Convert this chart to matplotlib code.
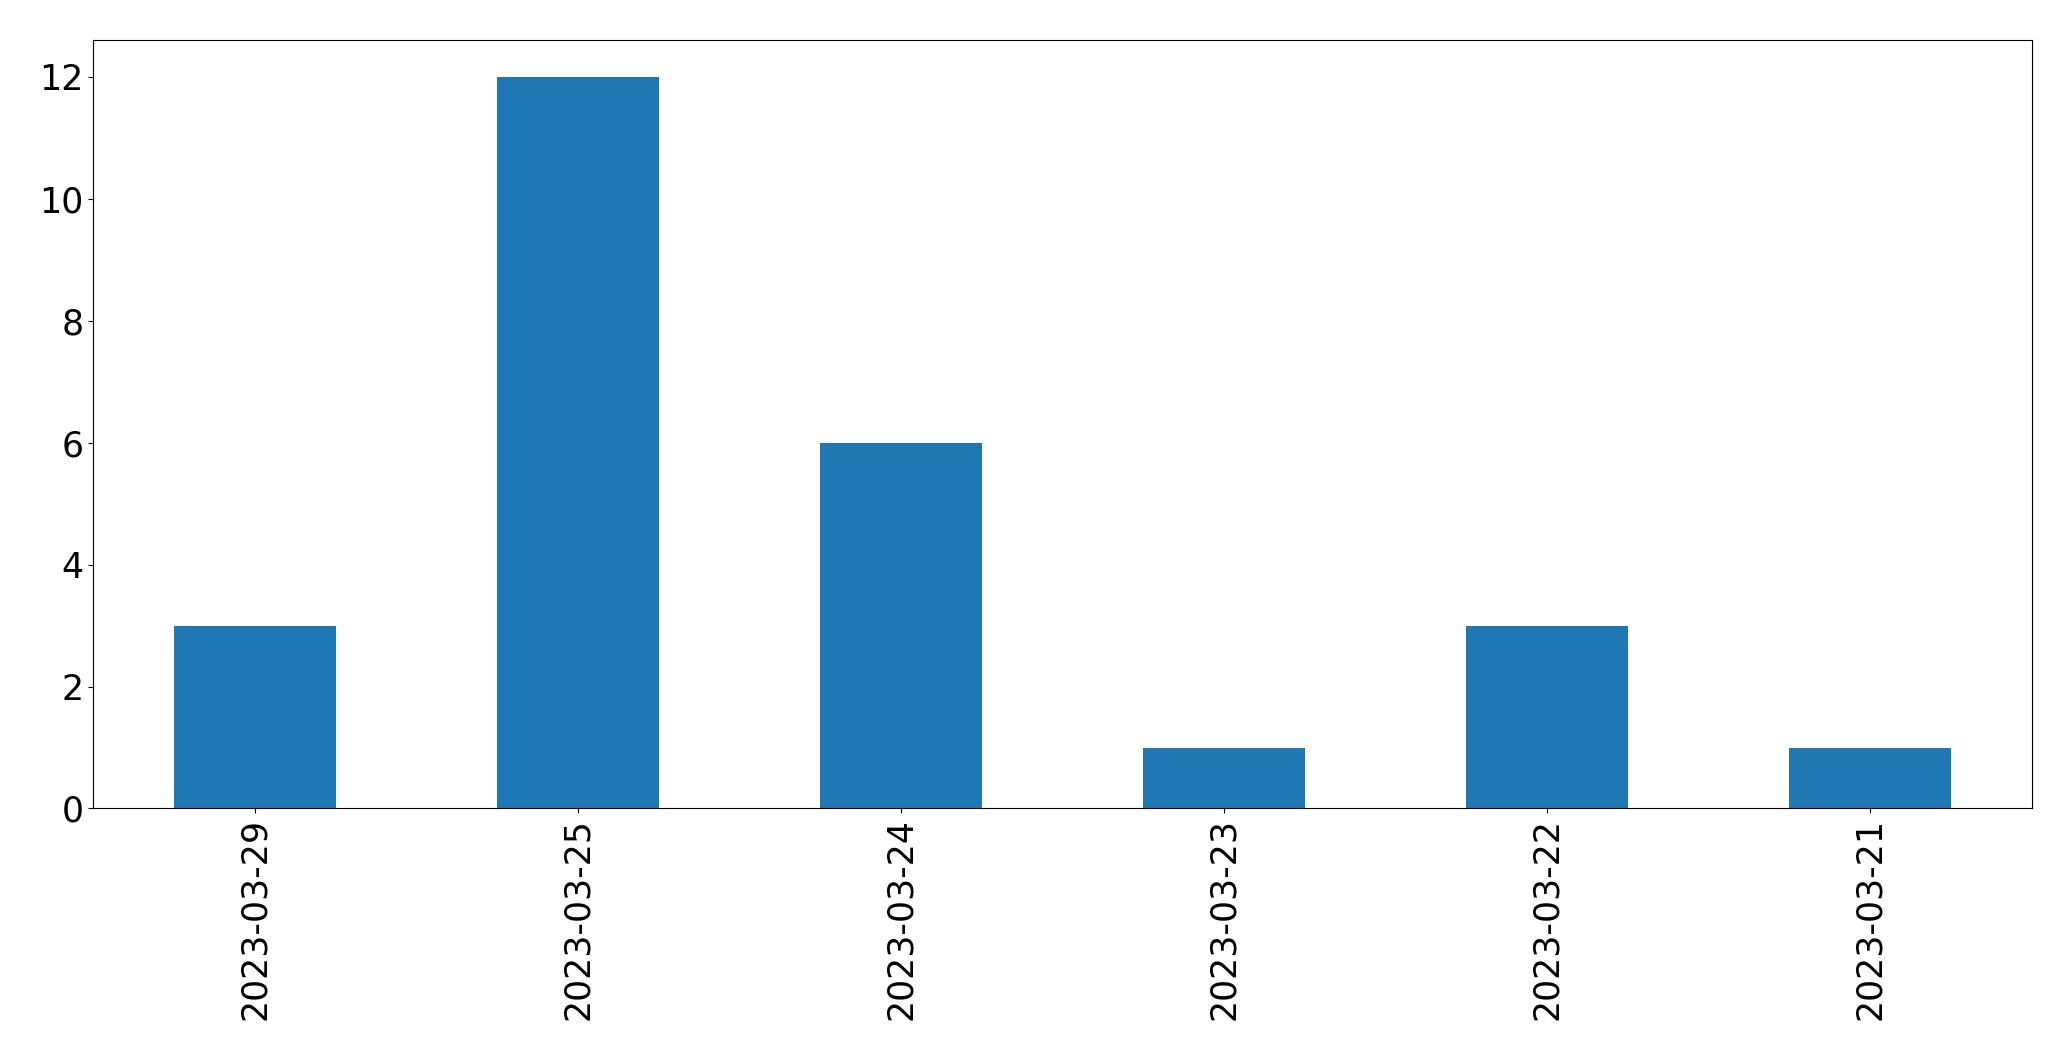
import matplotlib.pyplot as plt
import pandas as pd

dates = ["2023-03-29", "2023-03-25", "2023-03-24", "2023-03-23", "2023-03-22", "2023-03-21"]
counts = [3, 12, 6, 1, 3, 1]

s = pd.Series(counts, index=dates)

fig, ax = plt.subplots(figsize=(20.71, 10.61), dpi=100)
s.plot(kind="bar", ax=ax, color="#1f77b4")
ax.tick_params(axis="both", labelsize=25)
ax.set_yticks([0, 2, 4, 6, 8, 10, 12])
fig.subplots_adjust(left=0.045, right=0.981, top=0.962, bottom=0.238)
fig.savefig("out.png", dpi=100)
